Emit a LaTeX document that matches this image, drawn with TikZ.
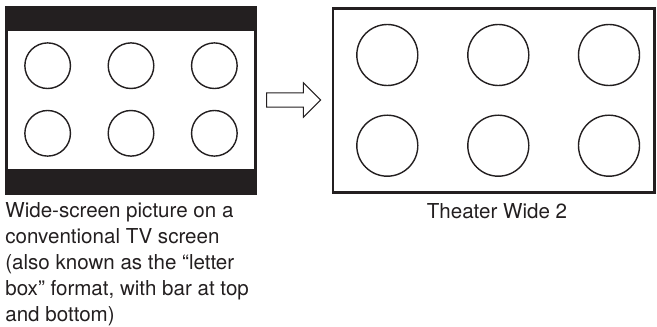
\documentclass[tikz,border=0pt]{standalone}
\usepackage{fontspec}
\setmainfont{TeX Gyre Heros}
\usetikzlibrary{shapes.arrows,calc}
\definecolor{inkc}{HTML}{231F20}
\tikzset{
  screenbox/.style={draw=inkc, line width=1.5pt, inner sep=0pt},
  disc/.style={draw=inkc, line width=0.8pt},
  caption/.style={font=\fontsize{11.7}{13.1}\selectfont, text=inkc, inner sep=0pt, align=left}
}

\begin{document}
\begin{tikzpicture}
  \useasboundingbox (0,0) rectangle (13.14,6.52);
  % letter box screen
  \fill[inkc] (0.10,6.40) rectangle (5.14,5.90);
  \fill[inkc] (0.10,3.14) rectangle (5.14,2.62);
  \node[screenbox, minimum width=4.99cm, minimum height=3.73cm] (letterbox) at (2.62,4.51) {};
  \foreach \x in {0.953,2.620,4.287}
    \foreach \y in {5.206,3.854}
      \draw[disc] (\x,\y) circle (0.456);
  % theater wide screen
  \node[screenbox, minimum width=6.43cm, minimum height=3.68cm] (theater) at (9.875,4.507) {};
  \foreach \x in {7.746,9.966,12.180}
    \foreach \y in {5.420,3.606}
      \draw[disc] (\x,\y) circle (0.61);
  \node[single arrow, draw=inkc, line width=0.6pt, minimum height=1.08cm,
    inner sep=0.1335cm, single arrow head extend=0.2cm] (toarrow) at (5.80,4.52) {};
  \node[caption, anchor=north west] (lbtext) at (0.10,2.47)
    {Wide-screen picture on a\\[1.6pt]conventional TV screen\\[1.6pt](also known as the “letter\\[1.6pt]box” format, with bar at top\\[1.6pt]and bottom)};
  \node[caption, anchor=north] (twtext) at (9.94,2.45) {Theater Wide 2};
\end{tikzpicture}
\end{document}
